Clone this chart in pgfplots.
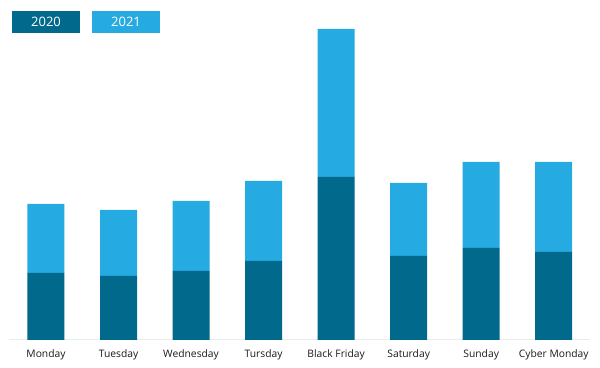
\documentclass[border=0pt]{standalone}
\usepackage{pgfplots}
\pgfplotsset{compat=1.18}
\usepackage{fontspec}
\setmainfont{Open Sans}
\definecolor{dark}{RGB}{0,105,140}
\definecolor{light}{RGB}{37,170,225}
\definecolor{axisgray}{RGB}{232,236,239}
\begin{document}
\begin{tikzpicture}[x=1pt,y=1pt]
\path[use as bounding box] (0,0) rectangle (600,367);
\begin{axis}[
  at={(9pt,27pt)}, anchor=south west,
  scale only axis, width=581pt, height=340pt,
  ybar stacked, bar width=37pt,
  xmin=-0.51, xmax=7.5, ymin=0, ymax=340,
  axis y line=none, axis x line*=bottom,
  x axis line style={axisgray, line width=1pt, -},
  xtick=data, major tick length=0pt,
  xticklabels={Monday,Tuesday,Wednesday,Tursday,Black Friday,Saturday,Sunday,Cyber Monday},
  xticklabel style={anchor=base, yshift=-18pt, font=\fontsize{10.3}{12}\selectfont, text=black!90},
  clip=false,
]
\addplot[fill=dark, draw=none] coordinates {(0,67) (1,64) (2,69) (3,79) (4,163) (5,84) (6,92) (7,88)};
\addplot[fill=light, draw=none] coordinates {(0,69) (1,66) (2,70) (3,80) (4,148) (5,73) (6,86) (7,90)};
\end{axis}
\fill[dark] (12,367-33) rectangle (80,367-11);
\node[text=white, font=\fontsize{13}{15}\selectfont] at (46,367-22) {2020};
\fill[light] (92,367-33) rectangle (160,367-11);
\node[text=white, font=\fontsize{13}{15}\selectfont] at (126,367-22) {2021};
\end{tikzpicture}
\end{document}
